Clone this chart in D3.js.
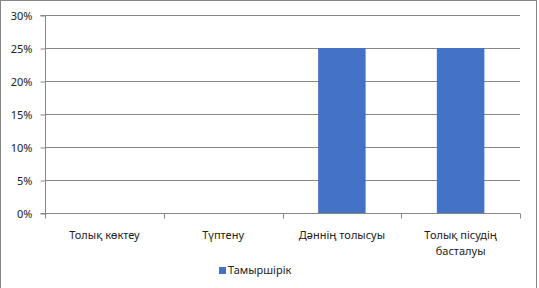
<!DOCTYPE html>
<html>
<head>
<meta charset="utf-8">
<script src="https://cdn.jsdelivr.net/npm/d3@7"></script>
<style>
  body { margin: 0; background: #fff; }
  text { font-family: "Noto Sans", "Open Sans", sans-serif; fill: #222; }
</style>
</head>
<body>
<div id="chart"></div>
<script>
// chart data
const categories = ["Толық көктеу", "Түптену", "Дәннің толысуы", "Толық пісудің басталуы"];
const categoryLines = [["Толық көктеу"], ["Түптену"], ["Дәннің толысуы"], ["Толық пісудің", "басталуы"]];
const seriesName = "Тамыршірік";
const values = [0, 0, 0.25, 0.25];
const yTicks = [0, 0.05, 0.10, 0.15, 0.20, 0.25, 0.30];

const W = 539, H = 288;
const margin = {top: 15, right: 19, bottom: 75, left: 45};
const width = W - margin.left - margin.right,
      height = H - margin.top - margin.bottom;

const svg = d3.select("#chart")
    .append("svg")
    .attr("width", W)
    .attr("height", H);

// outer frame
svg.append("rect")
    .attr("x", 0.5).attr("y", 0.5)
    .attr("width", 536).attr("height", H + 5)
    .attr("fill", "none")
    .attr("stroke", "#868686");

const g = svg.append("g")
    .attr("transform", `translate(${margin.left},${margin.top})`);

const xScale = d3.scaleBand().domain(categories).range([0, width]);
const yScale = d3.scaleLinear().domain([0, 0.3]).range([height, 0]);

// gridlines
g.selectAll(".grid")
    .data(yTicks.slice(1))
    .enter()
    .append("line")
    .attr("x1", 0).attr("x2", width)
    .attr("y1", d => Math.round(yScale(d)) + 0.5)
    .attr("y2", d => Math.round(yScale(d)) + 0.5)
    .attr("stroke", "#868686");

// y axis
const yAxis = d3.axisLeft(yScale).tickValues(yTicks)
    .tickFormat(d3.format(".0%")).tickSize(5).tickPadding(8);
const yAxisG = g.append("g").attr("transform", "translate(0.5,0.5)").call(yAxis);
yAxisG.selectAll("path, line").attr("stroke", "#868686");
yAxisG.select(".domain").attr("d", `M-5,0H0V${height}H-5`);
yAxisG.selectAll("text").style("font-size", "11px").attr("fill", "#222");

// bars
const barW = xScale.bandwidth() * 0.4;
g.selectAll(".bar")
    .data(values)
    .enter()
    .append("rect")
    .attr("x", (d, i) => xScale(categories[i]) + (xScale.bandwidth() - barW) / 2)
    .attr("y", d => yScale(d))
    .attr("width", barW)
    .attr("height", d => height - yScale(d))
    .attr("fill", "#4472c4");

// x axis
const xAxisG = g.append("g").attr("transform", `translate(0,${Math.round(height) + 0.5})`);
xAxisG.append("line")
    .attr("x1", 0).attr("x2", width)
    .attr("stroke", "#868686");
xAxisG.selectAll(".tick")
    .data(categories.concat([null]))
    .enter()
    .append("line")
    .attr("x1", (d, i) => Math.round(i * xScale.step()) + 0.5)
    .attr("x2", (d, i) => Math.round(i * xScale.step()) + 0.5)
    .attr("y1", 0).attr("y2", 5)
    .attr("stroke", "#868686");

categoryLines.forEach((lines, i) => {
    const t = g.append("text")
        .attr("text-anchor", "middle")
        .attr("x", xScale(categories[i]) + xScale.bandwidth() / 2)
        .attr("y", height + 26)
        .style("font-size", "11px");
    lines.forEach((l, j) => {
        t.append("tspan")
            .attr("x", xScale(categories[i]) + xScale.bandwidth() / 2)
            .attr("dy", j === 0 ? 0 : 16)
            .text(l);
    });
});

// legend
svg.append("rect")
    .attr("x", 219).attr("y", 267)
    .attr("width", 7).attr("height", 7)
    .attr("fill", "#4472c4");
svg.append("text")
    .attr("x", 228).attr("y", 274)
    .style("font-size", "11px")
    .text(seriesName);
</script>
</body>
</html>
